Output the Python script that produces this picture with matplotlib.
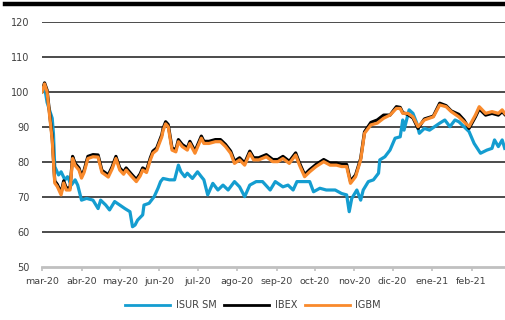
import matplotlib
matplotlib.use("Agg")
import matplotlib.pyplot as plt
import matplotlib.dates as mdates
from matplotlib.lines import Line2D
import pandas as pd

# ---------------- data ----------------
isur_dates = ["2020-03-01","2020-03-03","2020-03-05","2020-03-09","2020-03-10","2020-03-11","2020-03-14",
              "2020-03-16","2020-03-19","2020-03-21","2020-03-24","2020-03-27","2020-03-29","2020-04-01",
              "2020-04-05","2020-04-10","2020-04-14","2020-04-16","2020-04-20","2020-04-23","2020-04-27",
              "2020-05-01","2020-05-05","2020-05-09","2020-05-11","2020-05-13","2020-05-15","2020-05-19",
              "2020-05-20","2020-05-24","2020-05-28","2020-05-31","2020-06-02","2020-06-04","2020-06-09",
              "2020-06-13","2020-06-16","2020-06-18","2020-06-21","2020-06-23","2020-06-27","2020-07-01",
              "2020-07-04","2020-07-06","2020-07-09","2020-07-13","2020-07-17","2020-07-21","2020-07-25",
              "2020-07-30","2020-08-03","2020-08-07","2020-08-11","2020-08-16","2020-08-21","2020-08-27",
              "2020-08-31","2020-09-06","2020-09-10","2020-09-14","2020-09-17","2020-09-22","2020-09-27",
              "2020-09-30","2020-10-05","2020-10-10","2020-10-17","2020-10-22","2020-10-26","2020-10-28",
              "2020-10-30","2020-11-03","2020-11-06","2020-11-08","2020-11-12","2020-11-16","2020-11-20",
              "2020-11-21","2020-11-25","2020-11-29","2020-12-03","2020-12-07","2020-12-09","2020-12-10",
              "2020-12-14","2020-12-17","2020-12-20","2020-12-22","2020-12-26","2020-12-30","2021-01-03",
              "2021-01-07","2021-01-11","2021-01-15","2021-01-19","2021-01-22","2021-01-26","2021-01-30",
              "2021-02-03","2021-02-08","2021-02-13","2021-02-17","2021-02-19","2021-02-22","2021-02-25",
              "2021-02-27"]
isur_vals = [100, 101.5, 97, 92.5, 88, 78.7, 76.3,
             77.2, 74.9, 75.8, 73.4, 74.9, 73.4, 69.1,
             69.6, 69.1, 66.7, 69.1, 67.7, 66.3, 68.7,
             67.7, 66.7, 65.8, 61.5, 62.0, 63.4, 64.9,
             67.7, 68.2, 70.1, 72.5, 74.4, 75.3, 74.9,
             74.9, 79.1, 77.2, 75.8, 76.8, 75.3, 77.2,
             75.8, 74.9, 70.6, 73.9, 72.0, 73.4, 72.0,
             74.4, 72.9, 70.1, 73.4, 74.4, 74.4, 72.0,
             74.4, 72.9, 73.4, 72.0, 74.4, 74.4, 74.4,
             71.5, 72.5, 72.0, 72.0, 71.0, 70.6, 65.8,
             69.6, 72.0, 69.1, 72.0, 74.4, 74.9, 76.8,
             80.6, 81.5, 83.4, 86.8, 87.2, 92.0, 89.1,
             94.9, 93.9, 91.1, 88.2, 89.6, 89.1, 90.1,
             91.1, 92.0, 90.1, 92.0, 91.5, 90.1, 88.7,
             85.3, 82.5, 83.4, 83.9, 86.3, 84.4, 86.3,
             83.9]

idx_dates = ["2020-03-01","2020-03-03","2020-03-05","2020-03-09","2020-03-11","2020-03-13","2020-03-16",
             "2020-03-18","2020-03-20","2020-03-23","2020-03-25","2020-03-27","2020-03-30","2020-04-01",
             "2020-04-03","2020-04-06","2020-04-10","2020-04-14","2020-04-17","2020-04-19","2020-04-22",
             "2020-04-25","2020-04-28","2020-05-01","2020-05-04","2020-05-06","2020-05-10","2020-05-14",
             "2020-05-17","2020-05-19","2020-05-22","2020-05-25","2020-05-27","2020-05-30","2020-06-03",
             "2020-06-04","2020-06-06","2020-06-08","2020-06-11","2020-06-14","2020-06-16","2020-06-19",
             "2020-06-23","2020-06-25","2020-06-29","2020-07-04","2020-07-06","2020-07-10","2020-07-15",
             "2020-07-19","2020-07-23","2020-07-27","2020-07-30","2020-08-03","2020-08-07","2020-08-11",
             "2020-08-14","2020-08-18","2020-08-24","2020-08-29","2020-09-02","2020-09-06","2020-09-11",
             "2020-09-16","2020-09-19","2020-09-23","2020-09-27","2020-10-02","2020-10-08","2020-10-13",
             "2020-10-18","2020-10-22","2020-10-26","2020-10-29","2020-11-02","2020-11-06","2020-11-09",
             "2020-11-14","2020-11-19","2020-11-24","2020-11-29","2020-12-04","2020-12-07","2020-12-09",
             "2020-12-13","2020-12-17","2020-12-21","2020-12-26","2021-01-02","2021-01-07","2021-01-12",
             "2021-01-16","2021-01-22","2021-01-26","2021-01-30","2021-02-04","2021-02-07","2021-02-12",
             "2021-02-17","2021-02-22","2021-02-25","2021-02-27"]
ibex_vals = [100.3, 102.6, 100.5, 87.0, 74.6, 73.6, 71.2,
             74.6, 72.6, 72.6, 81.6, 79.6, 78.3, 76.0,
             77.6, 81.6, 82.1, 82.0, 77.6, 77.1, 76.3,
             78.6, 81.6, 78.3, 77.1, 78.3, 76.6, 75.0,
             76.6, 78.3, 77.6, 81.2, 83.1, 84.0, 87.8,
             89.6, 91.5, 90.7, 84.0, 83.5, 86.4, 85.0,
             84.0, 85.9, 83.1, 87.4, 85.9, 85.9, 86.4,
             86.4, 85.0, 83.1, 80.2, 81.2, 79.7, 83.1,
             81.2, 81.2, 82.1, 80.7, 80.7, 81.6, 80.2,
             82.6, 79.7, 76.4, 77.8, 79.3, 80.7, 79.7,
             79.7, 79.3, 79.3, 74.5, 76.3, 81.0, 88.6,
             91.3, 92.0, 93.4, 93.4, 95.8, 95.6, 94.1,
             93.6, 92.6, 89.6, 92.3, 93.1, 96.8, 96.1,
             94.6, 93.6, 92.0, 89.6, 92.9, 95.2, 93.4,
             93.9, 93.4, 94.4, 93.6]
igbm_vals = [100.0, 102.3, 100.0, 86.3, 74.0, 73.0, 70.6,
             74.0, 72.0, 72.0, 81.0, 79.0, 77.7, 75.4,
             77.0, 81.0, 81.5, 81.4, 77.0, 76.5, 75.7,
             78.0, 81.0, 77.7, 76.5, 77.7, 76.0, 74.4,
             76.0, 77.7, 77.0, 80.6, 82.5, 83.4, 87.2,
             89.0, 90.9, 90.1, 83.4, 82.9, 85.8, 84.4,
             83.4, 85.3, 82.5, 86.8, 85.3, 85.3, 85.8,
             85.8, 84.4, 82.5, 79.6, 80.6, 79.1, 82.5,
             80.6, 80.6, 81.5, 80.1, 80.1, 81.0, 79.6,
             82.0, 79.1, 75.8, 77.2, 78.7, 80.1, 79.1,
             79.1, 78.7, 78.7, 73.9, 75.8, 80.6, 88.2,
             90.6, 91.1, 92.5, 93.4, 95.3, 95.3, 93.9,
             93.9, 92.9, 90.1, 92.0, 92.9, 96.3, 95.8,
             94.4, 92.9, 91.5, 90.1, 93.4, 95.8, 93.9,
             94.4, 93.9, 94.9, 93.9]

series_names = ["ISUR SM", "IBEX", "IGBM"]
y_ticks = [50, 60, 70, 80, 90, 100, 110, 120]
month_labels = ["mar-20", "abr-20", "may-20", "jun-20", "jul-20", "ago-20",
                "sep-20", "oct-20", "nov-20", "dic-20", "ene-21", "feb-21"]

# ---------------- plot ----------------
BLUE = "#149DD0"
ORANGE = "#F98A2C"
BLACK = "#000000"

fig = plt.figure(figsize=(5.06, 3.20), dpi=100)
ax = fig.add_axes([42/506, 53/320, 1 - 42/506, 245/320])

xd_isur = pd.to_datetime(isur_dates)
xd_idx = pd.to_datetime(idx_dates)

ax.plot(xd_isur, isur_vals, color=BLUE, lw=2.3, label=series_names[0], solid_joinstyle="round", zorder=3)
ax.plot(xd_idx, ibex_vals, color=BLACK, lw=2.3, label=series_names[1], solid_joinstyle="round", zorder=4)
ax.plot(xd_idx, igbm_vals, color=ORANGE, lw=2.3, label=series_names[2], solid_joinstyle="round", zorder=5)

ax.set_ylim(50, 120)
ax.set_xlim(pd.Timestamp("2020-03-01"), pd.Timestamp("2021-02-28"))

ax.set_yticks(y_ticks)
ax.set_yticklabels([str(v) for v in y_ticks])
for v in y_ticks[1:]:
    ax.axhline(v, color="#1a1a1a", lw=1.1, zorder=1)

month_pos = pd.date_range("2020-03-01", periods=len(month_labels), freq="MS")
ax.set_xticks(month_pos)
ax.set_xticklabels(month_labels)

for s in ["top", "right", "left"]:
    ax.spines[s].set_visible(False)
ax.spines["bottom"].set_color("#c0c0c0")
ax.spines["bottom"].set_linewidth(2.0)

ax.tick_params(axis="y", length=0, pad=9, labelsize=7, labelcolor="#404040")
ax.tick_params(axis="x", length=3, width=1.2, color="#c0c0c0", pad=4, labelsize=6.8, labelcolor="#404040")

# top decorative bar
fig.add_artist(Line2D([5/506, 1.0], [1 - 4/320, 1 - 4/320], color="black", lw=3.2,
                      transform=fig.transFigure))

leg = fig.legend(loc="center", bbox_to_anchor=(253/506, 1 - 305/320), ncol=3, frameon=False,
                 fontsize=7, handlelength=4.6, columnspacing=0.8, handletextpad=0.6)
for h in leg.legend_handles:
    h.set_linewidth(2.0)
for t in leg.get_texts():
    t.set_color("#404040")

fig.savefig("out.png", dpi=100)
